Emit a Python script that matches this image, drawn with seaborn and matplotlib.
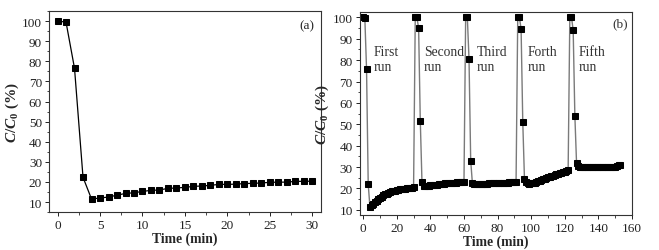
import numpy as np
import pandas as pd
import matplotlib
matplotlib.use("Agg")
import matplotlib.pyplot as plt
import seaborn as sns
from matplotlib.ticker import MultipleLocator

# (a) single run
time_a = [0, 1, 2, 3, 4, 5, 6, 7, 8, 9, 10, 11, 12, 13, 14, 15,
          16, 17, 18, 19, 20, 21, 22, 23, 24, 25, 26, 27, 28, 29, 30]
conc_a = [100, 99.5, 76.5, 22.3, 11.5, 12.0, 12.5, 13.4, 14.3, 14.6, 15.3,
          15.8, 16.0, 16.8, 17.0, 17.3, 17.8, 18.0, 18.3, 18.8, 18.8,
          18.9, 19.2, 19.3, 19.5, 19.8, 19.9, 19.9, 20.3, 20.3, 20.4]

# (b) five consecutive runs, sampled every minute
time_b = list(range(0, 154))
conc_b = [
    # first run
    100, 99.5, 76, 22, 11.5, 12, 12.8, 13.5, 14.3, 15, 15.6, 16.2, 16.7, 17.2,
    17.6, 18, 18.3, 18.6, 18.8, 19, 19.2, 19.4, 19.5, 19.7, 19.8, 19.9, 20,
    20.1, 20.2, 20.3, 20.5,
    # second run
    100, 100, 95, 51.5, 23,
    21.0, 21.1, 21.2, 21.3, 21.4, 21.5, 21.6, 21.7, 21.8, 21.9, 22.0, 22.1,
    22.2, 22.3, 22.4, 22.5, 22.5, 22.6, 22.7, 22.7, 22.8, 22.8, 22.9, 23.0, 23.0,
    # third run
    100, 100, 80.5, 33, 22.5,
    22.2, 21.9, 21.9, 22.0, 22.0, 22.1, 22.1, 22.2, 22.2, 22.3, 22.3, 22.4,
    22.4, 22.5, 22.5, 22.6, 22.6, 22.6, 22.7, 22.7, 22.7, 22.8, 22.8, 22.8,
    22.9, 23.0,
    # fourth run
    100, 100, 94.5, 51, 24.5,
    22.8, 22.3, 22.2, 22.3, 22.5, 22.7, 23.0, 23.3, 23.6, 23.9, 24.2, 24.5,
    24.8, 25.1, 25.4, 25.7, 26.0, 26.3, 26.6, 26.9, 27.2, 27.4, 27.7, 27.9,
    28.1, 28.4,
    # fifth run
    100, 100, 94, 54, 32,
    30.5, 30.2, 30.1, 30.0, 30.0, 30.0, 29.9, 29.9, 29.9, 29.9, 30.0, 30.0,
    30.0, 30.0, 30.0, 29.9, 29.9, 29.9, 30.0, 30.0, 30.0, 30.1, 30.2, 30.5,
    31.0, 31.0,
]

run_labels = ["First\nrun", "Second\nrun", "Third\nrun", "Forth\nrun", "Fifth\nrun"]
run_label_x = [6, 36, 67.5, 98, 128]

sns.set_style("ticks")
plt.rcParams["font.family"] = ["Liberation Serif", "DejaVu Serif"]
plt.rcParams["mathtext.fontset"] = "custom"
plt.rcParams["mathtext.it"] = "Liberation Serif:italic:bold"
plt.rcParams["mathtext.rm"] = "Liberation Serif:bold"

fig = plt.figure(figsize=(6.59, 2.51), dpi=100)
ax_a = fig.add_axes([0.0744, 0.151, 0.4126, 0.801])
ax_b = fig.add_axes([0.546, 0.139, 0.413, 0.809])

df_a = pd.DataFrame({"t": time_a, "c": conc_a})
df_b = pd.DataFrame({"t": time_b, "c": conc_b})

sns.lineplot(data=df_a, x="t", y="c", ax=ax_a, color="black", linewidth=0.9,
             marker="s", markersize=4.2, markerfacecolor="black",
             markeredgecolor="black")
sns.lineplot(data=df_b, x="t", y="c", ax=ax_b, color="#7a7a7a", linewidth=1.0,
             marker="s", markersize=4.5, markerfacecolor="black",
             markeredgecolor="black")

ylabel = r"$C/C_\mathrm{0}$ (%)"
for ax in (ax_a, ax_b):
    for s in ax.spines.values():
        s.set_visible(True)
        s.set_linewidth(0.8)
        s.set_color("#333333")
    ax.yaxis.set_major_locator(MultipleLocator(10))
    ax.yaxis.set_minor_locator(MultipleLocator(5))
    ax.tick_params(which="major", length=3, width=0.7, labelsize=9.5, pad=2,
                   colors="#222222")
    ax.tick_params(which="minor", length=1.8, width=0.6)
    ax.set_xlabel("Time (min)", fontsize=9.8, fontweight="bold", labelpad=0)
    ax.set_ylabel(ylabel, fontsize=11, fontweight="bold", labelpad=1)

ax_a.set_xlim(-1, 31)
ax_a.set_ylim(5, 105)
ax_a.xaxis.set_major_locator(MultipleLocator(5))
ax_a.xaxis.set_minor_locator(MultipleLocator(2.5))
ax_a.text(0.975, 0.93, "(a)", transform=ax_a.transAxes, ha="right",
          va="center", fontsize=9.5)

ax_b.set_xlim(-2, 160)
ax_b.set_ylim(7.5, 102.5)
ax_b.xaxis.set_major_locator(MultipleLocator(20))
ax_b.xaxis.set_minor_locator(MultipleLocator(10))
ax_b.text(0.985, 0.945, "(b)", transform=ax_b.transAxes, ha="right",
          va="center", fontsize=9.5, color="#333333")
for lab, xpos in zip(run_labels, run_label_x):
    ax_b.text(xpos, 80.5, lab, ha="left", va="center", fontsize=9.8,
              color="#333333", linespacing=1.25)

fig.savefig("out.png", dpi=100)
